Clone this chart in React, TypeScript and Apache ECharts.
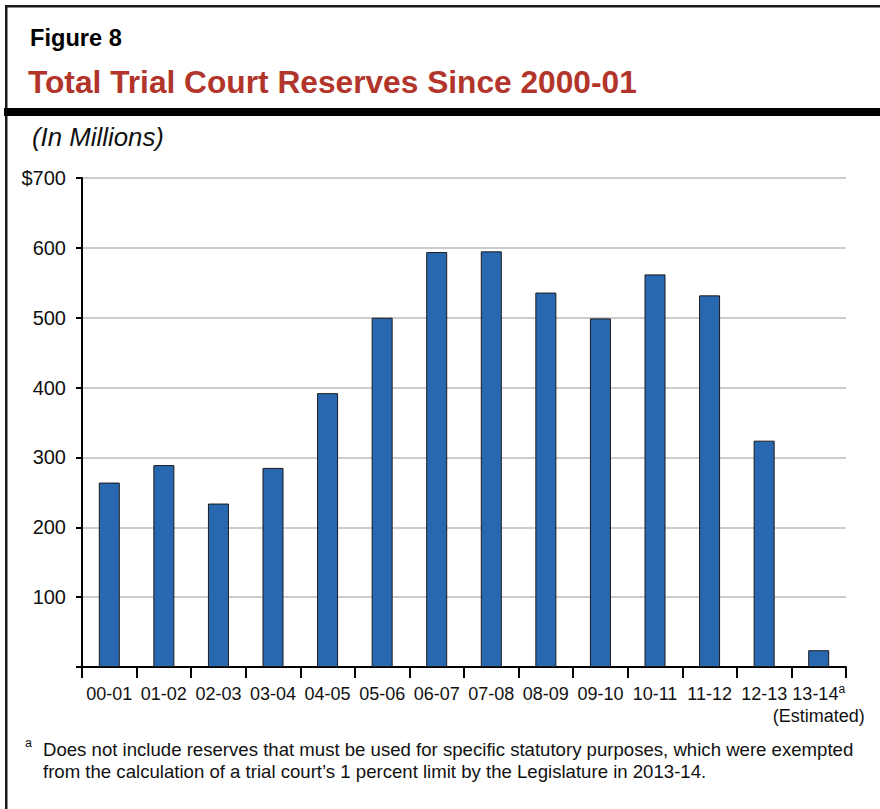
import React, { useEffect, useRef } from "react";
import * as echarts from "echarts";

const categories = ["00-01", "01-02", "02-03", "03-04", "04-05", "05-06", "06-07", "07-08", "08-09", "09-10", "10-11", "11-12", "12-13", "13-14"];
const reserves = [264, 289, 234, 285, 392, 500, 594, 595, 536, 499, 562, 532, 324, 24];
const yTicks = [0, 100, 200, 300, 400, 500, 600, 700];

const figureLabel = "Figure 8";
const titleText = "Total Trial Court Reserves Since 2000-01";
const unitText = "(In Millions)";
const footnoteLines = [
  "Does not include reserves that must be used for specific statutory purposes, which were exempted",
  "from the calculation of a trial court\u2019s 1 percent limit by the Legislature in 2013-14.",
];

const FONT = "'Liberation Sans', Arial, Helvetica, sans-serif";

export default function App() {
  const ref = useRef<HTMLDivElement>(null);
  useEffect(() => {
    if (!ref.current) return;
    const chart = echarts.init(ref.current, undefined, { renderer: "svg" });
    const yMax = yTicks[yTicks.length - 1];
    chart.setOption({
      animation: false,
      backgroundColor: "#ffffff",
      textStyle: { fontFamily: FONT },
      grid: { left: 82, right: 34, top: 178, bottom: 142, containLabel: false },
      xAxis: {
        type: "category",
        data: categories,
        axisLine: { show: true, lineStyle: { color: "#000", width: 2 } },
        axisTick: { show: true, length: 11, interval: 0, lineStyle: { color: "#000", width: 2 } },
        axisLabel: {
          interval: 0,
          margin: 16,
          fontSize: 18,
          color: "#111",
          fontFamily: FONT,
          lineHeight: 22,
          formatter: (v: string, i: number) =>
            i === categories.length - 1 ? `${v}{sup|a}\n(Estimated)` : v,
          rich: {
            sup: { fontSize: 12, fontFamily: FONT, color: "#111", verticalAlign: "top", padding: [0, 0, 10, 0] },
          },
        },
        splitLine: { show: false },
      },
      yAxis: {
        type: "value",
        min: yTicks[0],
        max: yMax,
        interval: 100,
        axisLine: { show: true, lineStyle: { color: "#000", width: 2 } },
        axisTick: { show: true, length: 6, lineStyle: { color: "#000", width: 2 } },
        axisLabel: {
          margin: 16,
          fontSize: 20,
          color: "#111",
          fontFamily: FONT,
          formatter: (v: number) => (v === 0 ? "" : v === yMax ? `$${v}` : `${v}`),
        },
        splitLine: { show: true, lineStyle: { color: "#cccccc", width: 2 } },
      },
      series: [
        {
          type: "bar",
          data: reserves,
          barWidth: 21,
          itemStyle: { color: "#2868b0", borderColor: "#1a1a1a", borderWidth: 1 },
        },
      ],
      graphic: [
        { type: "rect", shape: { x: 5, y: 5, width: 875, height: 2.5 }, style: { fill: "#1a1a1a" } },
        { type: "rect", shape: { x: 5, y: 5, width: 2.5, height: 804 }, style: { fill: "#1a1a1a" } },
        { type: "rect", shape: { x: 4, y: 108, width: 876, height: 8 }, style: { fill: "#000" } },
        {
          type: "text",
          x: 30,
          y: 38,
          style: { text: figureLabel, fontSize: 23.6, fontWeight: "bold", fontFamily: FONT, fill: "#000", textAlign: "left", textVerticalAlign: "middle", verticalAlign: "middle" },
        },
        {
          type: "text",
          x: 28,
          y: 82,
          style: { text: titleText, fontSize: 31.7, fontWeight: "bold", fontFamily: FONT, fill: "#b2352c", textAlign: "left", textVerticalAlign: "middle", verticalAlign: "middle" },
        },
        {
          type: "text",
          x: 32,
          y: 137,
          style: { text: unitText, fontSize: 25.8, fontStyle: "italic", fontFamily: FONT, fill: "#111", textAlign: "left", textVerticalAlign: "middle", verticalAlign: "middle" },
        },
        {
          type: "text",
          x: 25,
          y: 743,
          style: { text: "a", fontSize: 12.5, fontFamily: FONT, fill: "#111", textAlign: "left", textVerticalAlign: "middle", verticalAlign: "middle" },
        },
        {
          type: "text",
          x: 43,
          y: 749,
          style: { text: footnoteLines[0], fontSize: 18.6, fontFamily: FONT, fill: "#111", textAlign: "left", textVerticalAlign: "middle", verticalAlign: "middle" },
        },
        {
          type: "text",
          x: 43,
          y: 771,
          style: { text: footnoteLines[1], fontSize: 18.6, fontFamily: FONT, fill: "#111", textAlign: "left", textVerticalAlign: "middle", verticalAlign: "middle" },
        },
      ],
    });
    return () => chart.dispose();
  }, []);
  return <div ref={ref} style={{ position: "absolute", left: 0, top: 0, width: 880, height: 809 }} />;
}
